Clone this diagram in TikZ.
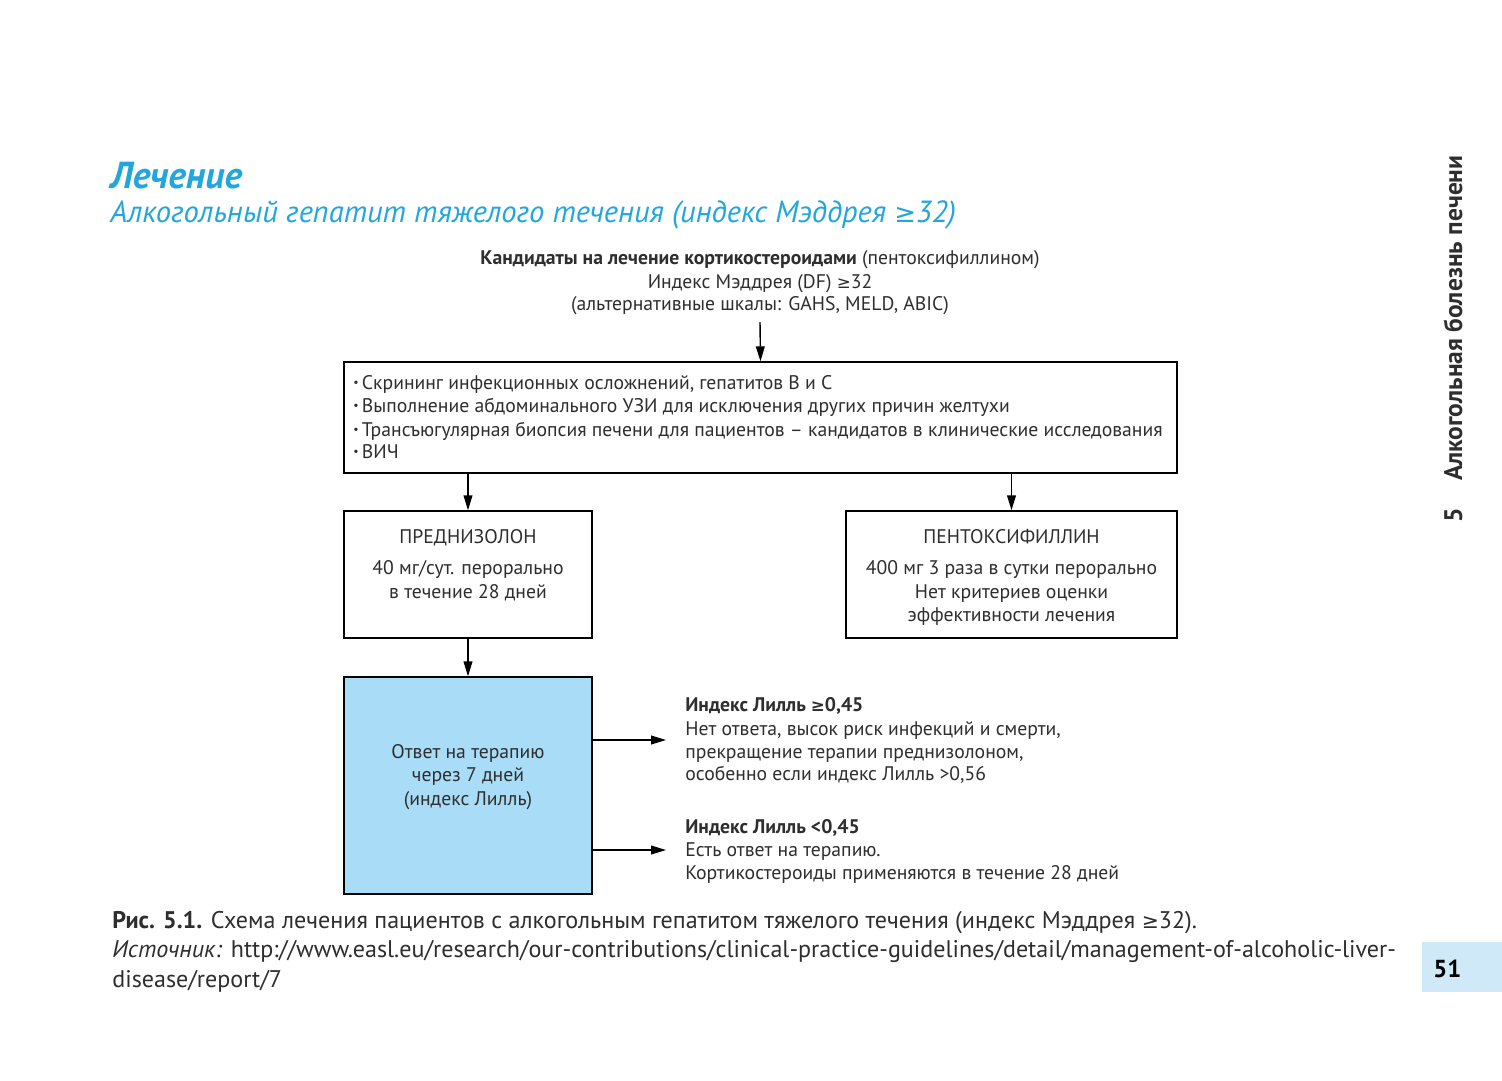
\documentclass[tikz,border=0pt]{standalone}
\usepackage{fontspec}
\setmainfont{PT Sans}
\newfontfamily\symf{DejaVu Sans}
\usetikzlibrary{arrows.meta}
\definecolor{cyanT}{HTML}{22A6DC}
\definecolor{boxblue}{HTML}{A9DDF7}
\definecolor{pageblue}{HTML}{CFE9F8}
\definecolor{txt}{HTML}{2E2E2E}
\newcommand{\gesym}{{\symf\scalebox{0.85}{≥}}}
\newcommand{\bul}{\raisebox{0.3ex}{\scalebox{0.6}{•}}\,}
\tikzset{
  box/.style={draw=black, line width=0.8pt, inner sep=0pt},
  arr/.style={line width=0.8pt, -{Triangle[length=8.5pt,width=5pt]}},
  body/.style={text=txt, inner sep=0pt, font=\fontsize{11.2}{13}\selectfont},
  bodyb/.style={body, font=\fontsize{11.2}{13}\selectfont\bfseries},
  capt/.style={text=txt, inner sep=0pt, anchor=base west, font=\fontsize{13.7}{15}\selectfont},
}
\begin{document}
\begin{tikzpicture}[x=0.02cm,y=-0.02cm]
\useasboundingbox (0,0) rectangle (1502,1080);
\fill[white] (0,0) rectangle (1502,1080);

% title
\node[anchor=base west, inner sep=0pt, text=cyanT, font=\fontsize{21.4}{23}\selectfont\bfseries\itshape] (title) at (110,188) {Лечение};
\node[anchor=base west, inner sep=0pt, text=cyanT, font=\fontsize{17.4}{19}\selectfont\itshape] (subtitle) at (110,222) {Алкогольный гепатит тяжелого течения (индекс Мэддрея \gesym32)};

% top text
\node[body, anchor=base] (cand1) at (760,264) {\textbf{Кандидаты на лечение кортикостероидами} (пентоксифиллином)};
\node[body, anchor=base] (cand2) at (760,288) {Индекс Мэддрея (DF) \gesym32};
\node[body, anchor=base] (cand3) at (760,310) {(альтернативные шкалы: GAHS, MELD, ABIC)};
\coordinate (topstart) at (760,322);

% box 1
\node[box, minimum width=833*0.02cm, minimum height=111*0.02cm] (screen) at (760.5,417.5) {};
\node[body, anchor=base west] (s1) at (353,389) {\bul Скрининг инфекционных осложнений, гепатитов В и С};
\node[body, anchor=base west] (s2) at (353,412) {\bul Выполнение абдоминального УЗИ для исключения других причин желтухи};
\node[body, anchor=base west] (s3) at (353,436) {\bul Трансъюгулярная биопсия печени для пациентов -- кандидатов в клинические исследования};
\node[body, anchor=base west] (s4) at (353,458) {\bul ВИЧ};

% box 2
\node[box, minimum width=248*0.02cm, minimum height=127*0.02cm] (pred) at (468,574.5) {};
\node[body, anchor=base] (p1) at (468,543) {ПРЕДНИЗОЛОН};
\node[body, anchor=base] (p2) at (468,574) {40 мг/сут. перорально};
\node[body, anchor=base] (p3) at (468,598) {в течение 28 дней};

% box 3
\node[box, minimum width=331*0.02cm, minimum height=127*0.02cm] (pent) at (1011.5,574.5) {};
\node[body, anchor=base] (q1) at (1011.5,543) {ПЕНТОКСИФИЛЛИН};
\node[body, anchor=base] (q2) at (1011.5,574) {400 мг 3 раза в сутки перорально};
\node[body, anchor=base] (q3) at (1011.5,598) {Нет критериев оценки};
\node[body, anchor=base] (q4) at (1011.5,621) {эффективности лечения};

% blue box
\node[box, fill=boxblue, minimum width=248*0.02cm, minimum height=217*0.02cm] (resp) at (468,785.5) {};
\node[body, anchor=base] (r1) at (468,758) {Ответ на терапию};
\node[body, anchor=base] (r2) at (468,781) {через 7 дней};
\node[body, anchor=base] (r3) at (468,805) {(индекс Лилль)};

% right outcome texts
\node[bodyb, anchor=base west] (h1) at (685,711) {Индекс Лилль \gesym0,45};
\node[body, anchor=base west] (h2) at (685,735) {Нет ответа, высок риск инфекций и смерти,};
\node[body, anchor=base west] (h3) at (685,758) {прекращение терапии преднизолоном,};
\node[body, anchor=base west] (h4) at (685,780) {особенно если индекс Лилль >0,56};
\node[bodyb, anchor=base west] (l1) at (685,833) {Индекс Лилль <0,45};
\node[body, anchor=base west] (l2) at (685,856) {Есть ответ на терапию.};
\node[body, anchor=base west] (l3) at (685,879) {Кортикостероиды применяются в течение 28 дней};
\coordinate (endHi) at (666,740);
\coordinate (endLo) at (666,850);

% arrows
\draw[arr] (topstart) -- (screen.north);
\draw[arr] (screen.south -| pred.north) -- (pred.north);
\draw[arr] (screen.south -| pent.north) -- (pent.north);
\draw[arr] (pred.south) -- (resp.north);
\draw[arr] (resp.east |- endHi) -- (endHi);
\draw[arr] (resp.east |- endLo) -- (endLo);

% caption
\node[capt] (c1) at (112,928) {\textbf{Рис. 5.1.} Схема лечения пациентов с алкогольным гепатитом тяжелого течения (индекс Мэддрея \gesym32).};
\node[capt] (c2) at (112,957) {\textit{Источник:} http://www.easl.eu/research/our-contributions/clinical-practice-guidelines/detail/management-of-alcoholic-liver-};
\node[capt] (c3) at (112,987) {disease/report/7};

% side text
\node[anchor=base west, rotate=90, inner sep=0pt, text=txt, font=\fontsize{14.5}{16}\selectfont\bfseries] (side) at (1462,523) {5\hspace{1.1em}Алкогольная болезнь печени};

% page number
\fill[pageblue] (1422,942) rectangle (1502,992);
\node[anchor=base west, inner sep=0pt, text=black, font=\fontsize{14}{15}\selectfont\bfseries] (page) at (1433,977) {51};
\end{tikzpicture}
\end{document}
